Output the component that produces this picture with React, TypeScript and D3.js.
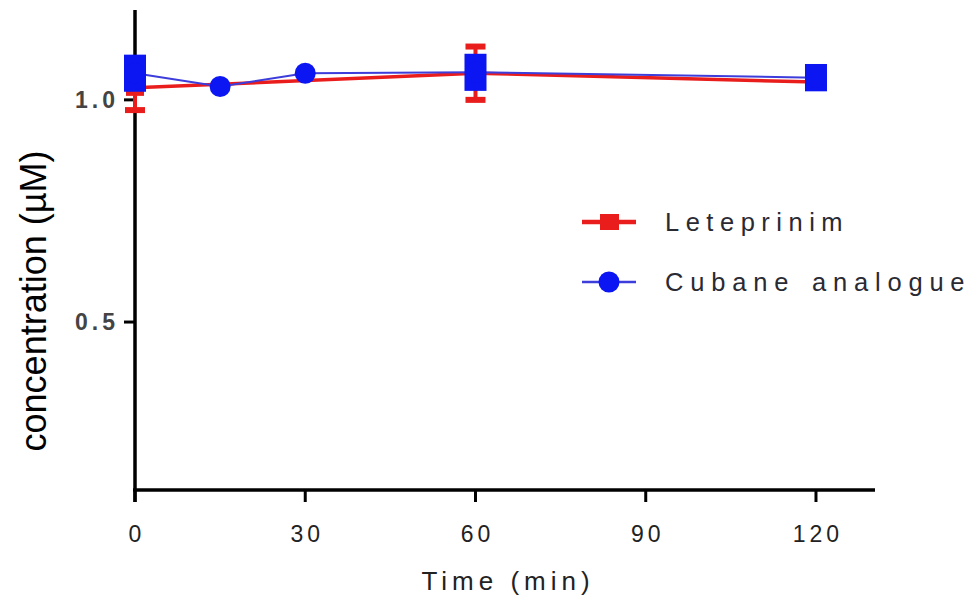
import React from 'react';
import * as d3 from 'd3';

// Leteprinim (red squares)
const letTimes = [0, 60, 120];
const letMean = [1.027, 1.06, 1.04];
const letErr = [0.05, 0.06, 0];

// Cubane analogue (blue circles)
const cubTimes = [0, 15, 30, 60, 120];
const cubMean = [1.06, 1.03, 1.06, 1.062, 1.05];
const cubErr = [0.035, 0, 0, 0.035, 0.024];

const xTicks = [0, 30, 60, 90, 120];
const yTicks = [0.5, 1.0];
const seriesNames = ['Leteprinim', 'Cubane analogue'];

const RED = '#ea1d1d';
const BLUE = '#0b16f2';
const BLUE_LINE = '#3d3ddb';

const W = 976;
const H = 602;

export default function App() {
  const x = d3.scaleLinear().domain([0, 130.4]).range([135, 875]);
  const y = d3.scaleLinear().domain([0.122, 1.2]).range([490, 11]);

  const letPts = letTimes.map((t, i) => ({ t, m: letMean[i], e: letErr[i] }));
  const cubPts = cubTimes.map((t, i) => ({ t, m: cubMean[i], e: cubErr[i] }));

  const line = d3.line<{ t: number; m: number }>()
    .x(d => x(d.t))
    .y(d => y(d.m));

  const font = 'Liberation Sans, Arial, sans-serif';

  return (
    <svg width={W} height={H} style={{ position: 'absolute', left: 0, top: 0, background: '#fff' }}>
      {/* axes */}
      <line x1={135} x2={135} y1={10} y2={502} stroke="#000" strokeWidth={3.5} />
      <line x1={133} x2={875} y1={490} y2={490} stroke="#000" strokeWidth={3.5} />
      {xTicks.map(t => (
        <g key={'xt' + t}>
          <line x1={x(t)} x2={x(t)} y1={490} y2={502} stroke="#000" strokeWidth={3} />
          <text x={x(t) + 2} y={542} textAnchor="middle" fontFamily={font} fontSize={23}
            letterSpacing={4} fill="#222">{t}</text>
        </g>
      ))}
      {yTicks.map(v => (
        <g key={'yt' + v}>
          <line x1={124} x2={135} y1={y(v)} y2={y(v)} stroke="#000" strokeWidth={3} />
          <text x={119} y={y(v) + 8} textAnchor="end" fontFamily={font} fontSize={23}
            fontWeight="bold" letterSpacing={4} fill="#444">{v.toFixed(1)}</text>
        </g>
      ))}
      <text x={508} y={590} textAnchor="middle" fontFamily={font} fontSize={26}
        letterSpacing={5} fill="#222">Time (min)</text>
      <text transform={`translate(46,301) rotate(-90)`} textAnchor="middle" fontFamily={font}
        fontSize={36} fill="#000">concentration (µM)</text>

      {/* Leteprinim */}
      <path d={line(letPts) || ''} fill="none" stroke={RED} strokeWidth={3.5} />
      {letPts.filter(p => p.e > 0).map(p => (
        <g key={'le' + p.t} fill={RED}>
          <rect x={x(p.t) - 2} y={y(p.m + p.e)} width={4} height={y(p.m - p.e) - y(p.m + p.e)} />
          <rect x={x(p.t) - 10} y={y(p.m + p.e) - 3} width={20} height={6} />
          <rect x={x(p.t) - 10} y={y(p.m - p.e) - 3} width={20} height={6} />
        </g>
      ))}
      {letPts.map(p => (
        <rect key={'lm' + p.t} x={x(p.t) - 9} y={y(p.m) - 8} width={18} height={16} fill={RED} />
      ))}

      {/* Cubane analogue */}
      <path d={line(cubPts) || ''} fill="none" stroke={BLUE_LINE} strokeWidth={2} />
      {cubPts.filter(p => p.e > 0).map(p => (
        <rect key={'ce' + p.t} x={x(p.t) - 11} y={y(p.m + p.e) - 3}
          width={22} height={y(p.m - p.e) - y(p.m + p.e) + 6} fill={BLUE} />
      ))}
      {cubPts.map(p => (
        <circle key={'cm' + p.t} cx={x(p.t)} cy={y(p.m)} r={10.5} fill={BLUE} />
      ))}

      {/* legend */}
      <g>
        <line x1={582} x2={636} y1={222} y2={222} stroke={RED} strokeWidth={4.5} />
        <rect x={600} y={214} width={19} height={16} fill={RED} />
        <text x={665} y={231} fontFamily={font} fontSize={25.5} letterSpacing={6.5} fill="#2a2a33">
          {seriesNames[0]}
        </text>
        <line x1={582} x2={636} y1={282} y2={282} stroke={BLUE_LINE} strokeWidth={2.5} />
        <circle cx={609} cy={282} r={10.5} fill={BLUE} />
        <text x={665} y={291} fontFamily={font} fontSize={25.5} letterSpacing={6.8} wordSpacing={3}
          fill="#2a2a33">
          {seriesNames[1]}
        </text>
      </g>
    </svg>
  );
}
